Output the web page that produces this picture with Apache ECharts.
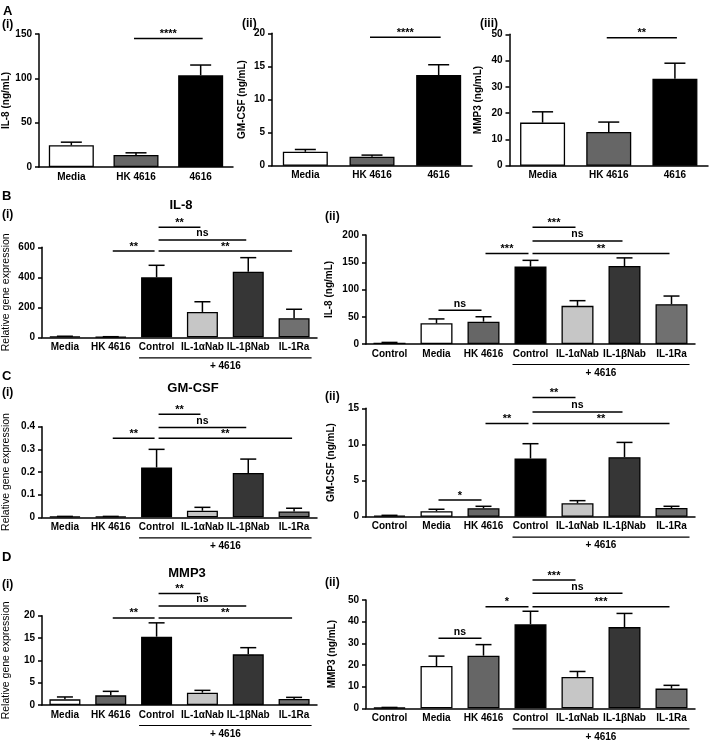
<!DOCTYPE html>
<html>
<head>
<meta charset="utf-8">
<script src="https://cdn.jsdelivr.net/npm/echarts@6/dist/echarts.min.js"></script>
<style>html,body{margin:0;padding:0;background:#fff}#c{width:709px;height:740px}</style>
</head>
<body>
<div id="c"></div>
<script>
// ---------- DATA ----------
const catsA = ['Media', 'HK 4616', '4616'];
const catsI = ['Media', 'HK 4616', 'Control', 'IL-1αNab', 'IL-1βNab', 'IL-1Ra'];
const catsII = ['Control', 'Media', 'HK 4616', 'Control', 'IL-1αNab', 'IL-1βNab', 'IL-1Ra'];

const il8A = [24.5, 13.5, 103.5];      const il8AErr = [3.5, 2.5, 11.5];
const gmcsfA = [2.1, 1.35, 13.7];      const gmcsfAErr = [0.35, 0.25, 1.55];
const mmp3A = [16.4, 12.8, 33.1];      const mmp3AErr = [4.1, 3.8, 5.9];

const il8Gene = [5, 3, 400, 169, 437, 127];           const il8GeneErr = [2, 1, 80, 68, 94, 60];
const il8Prot = [2.4, 38, 41, 142, 70, 143, 73];      const il8ProtErr = [0.5, 8, 9, 11.5, 9.5, 15, 15];
const gmGene = [0.003, 0.003, 0.22, 0.029, 0.196, 0.026]; const gmGeneErr = [0.001, 0.001, 0.08, 0.015, 0.061, 0.014];
const gmProt = [0.14, 0.75, 1.17, 8.06, 1.86, 8.24, 1.2];  const gmProtErr = [0.05, 0.28, 0.27, 2.04, 0.36, 2.04, 0.24];
const mmpGene = [1.27, 2.16, 15.3, 2.76, 11.34, 1.34];     const mmpGeneErr = [0.53, 0.9, 3.1, 0.52, 1.5, 0.37];
const mmpProt = [0.3, 19.5, 24.3, 38.8, 14.5, 37.5, 9.1];  const mmpProtErr = [0.1, 4.6, 5.1, 6.0, 2.5, 6.3, 1.5];

// significance brackets: [fromCategory, toCategory, yValue, label]
const sigA1 = [[1, 2, 145, '****']];
const sigA2 = [[1, 2, 19.4, '****']];
const sigA3 = [[1, 2, 48.7, '**']];
const sigB1 = [[2, 3, 733, '**'], [2, 4, 649, 'ns'], [2, 5, 575, '**'], [1, 2, 575, '**']];
const sigB2 = [[3, 4, 214, '***'], [3, 5, 189, 'ns'], [3, 6, 166, '**'], [2, 3, 166, '***'], [1, 2, 62, 'ns']];
const sigC1 = [[2, 3, 0.455, '**'], [2, 4, 0.397, 'ns'], [2, 5, 0.349, '**'], [1, 2, 0.349, '**']];
const sigC2 = [[3, 4, 16.5, '**'], [3, 5, 14.5, 'ns'], [3, 6, 12.9, '**'], [2, 3, 12.9, '**'], [1, 2, 2.3, '*']];
const sigD1 = [[2, 3, 25, '**'], [2, 4, 22.2, 'ns'], [2, 5, 19.5, '**'], [1, 2, 19.5, '**']];
const sigD2 = [[3, 4, 59.2, '***'], [3, 5, 53.1, 'ns'], [3, 6, 46.9, '***'], [2, 3, 46.9, '*'], [1, 2, 32.3, 'ns']];

// "+ 4616" grouping spans: [fromCategory, toCategory]
const groupI = [2, 5];
const groupII = [3, 6];

// ---------- STYLE ----------
const colA = ['#ffffff', '#666666', '#000000'];
const colI = ['#ffffff', '#666666', '#000000', '#c6c6c6', '#363636', '#707070'];
const colII = ['#ffffff', '#ffffff', '#666666', '#000000', '#c6c6c6', '#363636', '#707070'];
const FF = '"Liberation Sans", Arial, sans-serif';

const panels = [
  {grid: {left: 36, top: 34, width: 197, height: 133}, cats: catsA, vals: il8A, errs: il8AErr, colors: colA, max: 150, interval: 50, yName: 'IL-8 (ng/mL)', nameBold: true, nameGap: 28, barWidth: 45, cap: 10.5, sig: sigA1, gap: -2},
  {grid: {left: 272, top: 33.3, width: 200, height: 132.4}, cats: catsA, vals: gmcsfA, errs: gmcsfAErr, colors: colA, max: 20, interval: 5, yName: 'GM-CSF (ng/mL)', nameBold: true, nameGap: 25, barWidth: 45, cap: 10.5, sig: sigA2, gap: -2},
  {grid: {left: 509.5, top: 34.3, width: 198.5, height: 131.4}, cats: catsA, vals: mmp3A, errs: mmp3AErr, colors: colA, max: 50, interval: 10, yName: 'MMP3 (ng/mL)', nameBold: true, nameGap: 26, barWidth: 45, cap: 10.5, sig: sigA3, gap: -2},

  {grid: {left: 41, top: 247.3, width: 276, height: 90}, cats: catsI, vals: il8Gene, errs: il8GeneErr, colors: colI, max: 600, interval: 200, yName: 'Relative gene expression', nameBold: false, nameGap: 30, barWidth: 31, cap: 8, sig: sigB1, gap: 2, group: groupI},
  {grid: {left: 366, top: 235, width: 329, height: 109}, cats: catsII, vals: il8Prot, errs: il8ProtErr, colors: colII, max: 200, interval: 50, yName: 'IL-8 (ng/mL)', nameBold: true, nameGap: 32, barWidth: 32, cap: 8, sig: sigB2, gap: 2, group: groupII},

  {grid: {left: 41, top: 426.7, width: 276, height: 90.6}, cats: catsI, vals: gmGene, errs: gmGeneErr, colors: colI, max: 0.4, interval: 0.1, yName: 'Relative gene expression', nameBold: false, nameGap: 30, barWidth: 31, cap: 8, sig: sigC1, gap: 2, group: groupI},
  {grid: {left: 366, top: 408.3, width: 329, height: 108.4}, cats: catsII, vals: gmProt, errs: gmProtErr, colors: colII, max: 15, interval: 5, yName: 'GM-CSF (ng/mL)', nameBold: true, nameGap: 30, barWidth: 32, cap: 8, sig: sigC2, gap: 2, group: groupII},

  {grid: {left: 41, top: 615.7, width: 276, height: 89.3}, cats: catsI, vals: mmpGene, errs: mmpGeneErr, colors: colI, max: 20, interval: 5, yName: 'Relative gene expression', nameBold: false, nameGap: 30, barWidth: 31, cap: 8, sig: sigD1, gap: 2, group: groupI},
  {grid: {left: 366, top: 600, width: 329, height: 108.3}, cats: catsII, vals: mmpProt, errs: mmpProtErr, colors: colII, max: 50, interval: 10, yName: 'MMP3 (ng/mL)', nameBold: true, nameGap: 29, barWidth: 32, cap: 8, sig: sigD2, gap: 2, group: groupII}
];

const option = {animation: false, backgroundColor: '#fff', grid: [], xAxis: [], yAxis: [], series: [], graphic: []};

panels.forEach((p, k) => {
  option.grid.push(Object.assign({containLabel: false}, p.grid));
  option.xAxis.push({
    type: 'category', gridIndex: k, data: p.cats,
    axisLine: {lineStyle: {color: '#000', width: 1.5}},
    axisTick: {show: false},
    axisLabel: {interval: 0, color: '#000', fontWeight: 'bold', fontSize: 10, fontFamily: FF, margin: 5},
    splitLine: {show: false}
  });
  option.yAxis.push({
    type: 'value', gridIndex: k, min: 0, max: p.max, interval: p.interval,
    name: p.yName, nameLocation: 'middle', nameGap: p.nameGap,
    nameTextStyle: {color: '#000', fontSize: p.nameBold ? 10 : 10.5, fontWeight: p.nameBold ? 'bold' : 'normal', fontFamily: FF},
    axisLine: {show: true, lineStyle: {color: '#000', width: 1.5}},
    axisTick: {show: true, length: 4, lineStyle: {color: '#000', width: 1.5}},
    axisLabel: {color: '#000', fontWeight: 'bold', fontSize: 10, fontFamily: FF, margin: 7},
    splitLine: {show: false}
  });
  option.series.push({
    type: 'bar', xAxisIndex: k, yAxisIndex: k, barWidth: p.barWidth,
    data: p.vals.map((v, i) => ({value: v, itemStyle: {color: p.colors[i]}})),
    itemStyle: {borderColor: '#000', borderWidth: 1.3},
    z: 2
  });
  // error bars (upper)
  option.series.push({
    type: 'custom', xAxisIndex: k, yAxisIndex: k, z: 3,
    data: p.vals.map((v, i) => [i, v, v + p.errs[i]]),
    encode: {x: 0, y: [1, 2]},
    renderItem: (params, api) => {
      const lo = api.coord([api.value(0), api.value(1)]);
      const hi = api.coord([api.value(0), api.value(2)]);
      const st = {stroke: '#000', lineWidth: 1.5};
      return {type: 'group', children: [
        {type: 'line', shape: {x1: lo[0], y1: lo[1], x2: hi[0], y2: hi[1]}, style: st},
        {type: 'line', shape: {x1: hi[0] - p.cap, y1: hi[1], x2: hi[0] + p.cap, y2: hi[1]}, style: st}
      ]};
    }
  });
  // significance brackets
  option.series.push({
    type: 'custom', xAxisIndex: k, yAxisIndex: k, z: 4, clip: false,
    data: p.sig.map(s => [s[0], s[1], s[2]]),
    encode: {x: [0, 1], y: 2},
    renderItem: (params, api) => {
      const a = api.coord([api.value(0), api.value(2)]);
      const b = api.coord([api.value(1), api.value(2)]);
      const lab = p.sig[params.dataIndex][3];
      const isNs = lab === 'ns';
      return {type: 'group', children: [
        {type: 'line', shape: {x1: a[0] + p.gap, y1: a[1], x2: b[0] - p.gap, y2: b[1]}, style: {stroke: '#000', lineWidth: 1.5}},
        {type: 'text', x: (a[0] + b[0]) / 2, y: a[1] - (isNs ? 1 : -1),
         style: {text: lab, align: 'center', verticalAlign: 'bottom', fill: '#000',
                 font: (isNs ? 'bold 10.5px ' : 'bold 11px ') + FF}}
      ]};
    }
  });
  // "+ 4616" grouping line
  if (p.group) {
    option.series.push({
      type: 'custom', xAxisIndex: k, yAxisIndex: k, z: 4, clip: false,
      data: [[p.group[0], p.group[1], 0]],
      encode: {x: [0, 1], y: 2},
      renderItem: (params, api) => {
        const a = api.coord([api.value(0), api.value(2)]);
        const b = api.coord([api.value(1), api.value(2)]);
        const h = p.barWidth / 2 + 2;
        const y = a[1] + 20.5;
        return {type: 'group', children: [
          {type: 'line', shape: {x1: a[0] - h, y1: y, x2: b[0] + h, y2: y}, style: {stroke: '#000', lineWidth: 1.2}},
          {type: 'text', x: (a[0] + b[0]) / 2, y: y + 8.5,
           style: {text: '+ 4616', align: 'center', verticalAlign: 'middle', fill: '#000', font: 'bold 10px ' + FF}}
        ]};
      }
    });
  }
});

// panel letters, sub-labels and titles
const txt = (t, x, y, size, align) => ({type: 'text', x: x, y: y, silent: true,
  style: {text: t, fill: '#000', font: 'bold ' + size + 'px ' + FF, align: align || 'left', verticalAlign: 'middle'}});
option.graphic = [
  txt('A', 3, 11.5, 13), txt('(i)', 2, 25, 12), txt('(ii)', 242, 24, 12), txt('(iii)', 480, 24, 12),
  txt('B', 2, 196, 13), txt('(i)', 2, 215, 12), txt('(ii)', 325, 217, 12), txt('IL-8', 181, 205, 13, 'center'),
  txt('C', 2, 376, 13), txt('(i)', 2, 393, 12), txt('(ii)', 325, 397, 12), txt('GM-CSF', 193, 388, 13, 'center'),
  txt('D', 2, 557.5, 13), txt('(i)', 2, 585, 12), txt('(ii)', 325, 583, 12), txt('MMP3', 187, 573, 13, 'center')
];

const chart = echarts.init(document.getElementById('c'), null, {renderer: 'canvas', width: 709, height: 740});
chart.setOption(option);
</script>
</body>
</html>
